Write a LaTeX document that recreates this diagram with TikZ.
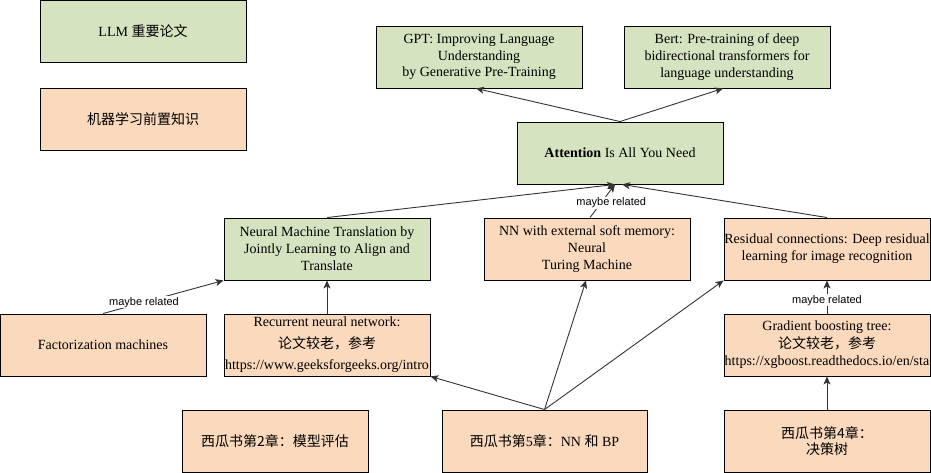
\documentclass[tikz,border=0pt]{standalone}
\usepackage{fontspec}
\setmainfont{Liberation Serif}
\newfontfamily\cjk{Noto Sans CJK SC}
\newfontfamily\lsans{Liberation Sans}
\usetikzlibrary{arrows.meta,calc}
\definecolor{gfill}{HTML}{D6E3C0}
\definecolor{ofill}{HTML}{FAD9BC}
\definecolor{lnc}{HTML}{333333}
\tikzset{
  box/.style={draw=black, line width=0.9pt, minimum width=206pt, minimum height=62pt,
    align=center, font=\fontsize{14}{16.8}\selectfont, inner sep=0pt},
  gbox/.style={box, fill=gfill},
  obox/.style={box, fill=ofill},
  conn/.style={draw=lnc, line width=0.9pt, -{Stealth[length=8pt,width=7pt,inset=2pt]}},
  lbl/.style={fill=white, font=\lsans\fontsize{11}{12}\selectfont, inner sep=1pt}
}
\begin{document}
\begin{tikzpicture}[x=1pt,y=-1pt]
\useasboundingbox (0,0) rectangle (931,473);
% legend
\node[gbox] (llm) at (143,31) {LLM {\cjk 重要论文}};
\node[obox] (ml) at (143,119) {\cjk 机器学习前置知识};
% top
\node[gbox] (gpt) at (479,57) {GPT: Improving Language\\Understanding\\by Generative Pre-Training};
\node[gbox] (bert) at (727,57) {Bert: Pre-training of deep\\bidirectional transformers for\\language understanding};
\node[gbox] (att) at (620,153) {\textbf{Attention} Is All You Need};
% middle
\node[gbox] (nmt) at (327,249) {Neural Machine Translation by\\Jointly Learning to Align and\\Translate};
\node[obox] (ntm) at (587,249) {NN with external soft memory:\\Neural\\Turing Machine};
\node[obox] (res) at (827,249) {Residual connections: Deep residual\\learning for image recognition};
% lower
\node[obox] (fm) at (103,345) {Factorization machines};
\node[obox, font=\fontsize{14}{21.5}\selectfont] (rnn) at (327,345) {Recurrent neural network:\\{\cjk 论文较老，参考}\\https://www.geeksforgeeks.org/intro};
\node[obox, font=\fontsize{14}{17.5}\selectfont] (gbt) at (827,345) {Gradient boosting tree:\\{\cjk 论文较老，参考}\\https://xgboost.readthedocs.io/en/sta};
% bottom
\node[obox, minimum width=186pt] (x2) at (275,441) {\cjk 西瓜书第2章：模型评估};
\node[obox, minimum width=205pt] (x5) at (544.5,441) {{\cjk 西瓜书第}5{\cjk 章：}NN {\cjk 和} BP};
\node[obox] (x4) at (827,441) {{\cjk 西瓜书第4章：}\\{\cjk 决策树}};
% connectors
\draw[conn] (att.north) -- ($(gpt.south)+(-3,0)$);
\draw[conn] (att.north) -- ($(bert.south)+(-4,0)$);
\draw[conn] (nmt.north) -- ($(att.south)+(-5,0)$);
\draw[conn] ($(ntm.north)+(3,0)$) -- node[lbl, xshift=10pt, pos=0.45] {maybe related} ($(att.south)+(-5,0)$);
\draw[conn] (res.north) -- ($(att.south)+(2,0)$);
\draw[conn] (fm.north) -- node[lbl, pos=0.34] {maybe related} (nmt.south west);
\draw[conn] (rnn.north) -- (nmt.south);
\draw[conn] (x5.north) -- (rnn.south east);
\draw[conn] (x5.north) -- ($(ntm.south)+(-1,0)$);
\draw[conn] (x5.north) -- (res.south west);
\draw[conn] (gbt.north) -- node[lbl, pos=0.4] {maybe related} (res.south);
\draw[conn] (x4.north) -- (gbt.south);
\end{tikzpicture}
\end{document}
